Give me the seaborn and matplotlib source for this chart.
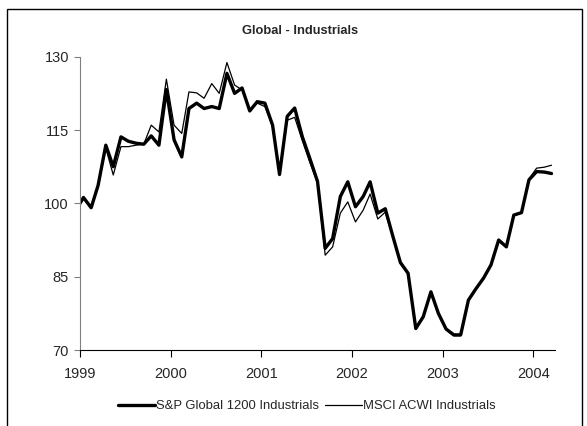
import pandas as pd
import matplotlib
matplotlib.use("Agg")
import matplotlib.pyplot as plt
import matplotlib.dates as mdates
import matplotlib.patches as patches
import seaborn as sns

# Monthly index values (rebased to 100 at start of 1999)
dates = [pd.Timestamp("1999-01-01")] + list(pd.date_range("1999-01-01", "2004-03-01", freq="MS") + pd.Timedelta(days=14))

sp_global = [100.0,
             101.2, 99.1, 103.7, 111.9, 107.5, 113.6, 112.7, 112.3, 112.1, 113.8, 111.9, 123.3,
             113.0, 109.5, 119.4, 120.5, 119.4, 119.8, 119.4, 126.6, 122.5, 123.6, 118.9, 120.8,
             120.5, 116.0, 105.9, 117.8, 119.5, 113.6, 109.2, 104.5, 90.8, 92.8, 101.4, 104.4,
             99.3, 101.4, 104.4, 98.0, 98.9, 93.2, 87.9, 85.7, 74.4, 76.8, 81.9, 77.5,
             74.3, 73.1, 73.1, 80.2, 82.5, 84.7, 87.4, 92.5, 91.1, 97.6, 98.1, 104.8,
             106.5, 106.4, 106.1]

msci_acwi = [100.0,
             101.0, 99.0, 103.5, 111.3, 105.8, 111.6, 111.6, 111.9, 112.1, 116.0, 114.6, 125.4,
             116.0, 114.3, 122.8, 122.6, 121.5, 124.5, 122.5, 128.8, 124.2, 123.2, 119.0, 120.5,
             119.8, 115.8, 106.2, 117.0, 117.6, 112.8, 108.4, 104.2, 89.4, 91.1, 98.0, 100.3,
             96.2, 98.6, 101.9, 96.8, 98.2, 93.0, 87.7, 85.5, 74.2, 76.6, 81.7, 77.3,
             74.1, 72.9, 72.9, 80.0, 82.4, 84.6, 87.3, 92.4, 91.0, 97.5, 98.0, 105.0,
             107.2, 107.4, 107.8]

labels = ["S&P Global 1200 Industrials", "MSCI ACWI Industrials"]
y_ticks = [70, 85, 100, 115, 130]

sns.set_style("white")
plt.rcParams['font.family'] = ['Liberation Sans Narrow', 'Liberation Sans', 'DejaVu Sans']

fig = plt.figure(figsize=(5.87, 4.26), dpi=100)
ax = fig.add_axes([80 / 587, 1 - 350 / 426, 475 / 587, 293.3 / 426])

sns.lineplot(x=dates, y=sp_global, ax=ax, color="black", linewidth=2.4, label=labels[0])
sns.lineplot(x=dates, y=msci_acwi, ax=ax, color="black", linewidth=0.9, label=labels[1])

ax.set_xlim(pd.Timestamp("1999-01-01"), pd.Timestamp("2004-03-29"))
ax.set_ylim(70, 130)
ax.set_yticks(y_ticks)
ax.xaxis.set_major_locator(mdates.YearLocator())
ax.xaxis.set_major_formatter(mdates.DateFormatter("%Y"))

ax.spines["top"].set_visible(False)
ax.spines["right"].set_visible(False)
ax.spines["left"].set_color("#808080")
ax.spines["bottom"].set_color("black")
ax.tick_params(axis="y", left=True, length=4, width=0.8, color="#808080", pad=4, labelsize=10.5)
ax.tick_params(axis="x", bottom=True, length=5, width=0.8, color="black", pad=7, labelsize=10.5)
ax.set_xlabel("")
ax.set_ylabel("")

fig.text(300 / 587, 1 - 31 / 426, "Global - Industrials", ha="center", va="center",
         fontsize=9.3, fontweight="bold")

ax.get_legend().remove()
fig.legend(*ax.get_legend_handles_labels(), loc="center", bbox_to_anchor=(307 / 587, 1 - 406 / 426),
           ncol=2, frameon=False, fontsize=9.4, handlelength=2.8, columnspacing=0.5,
           handletextpad=0.1)

fig.add_artist(patches.Rectangle((7 / 587, -0.05), 575 / 587, 1 - 9 / 426 + 0.05,
                                 transform=fig.transFigure, fill=False, edgecolor="black",
                                 linewidth=1))

fig.savefig("out.png", dpi=100)
